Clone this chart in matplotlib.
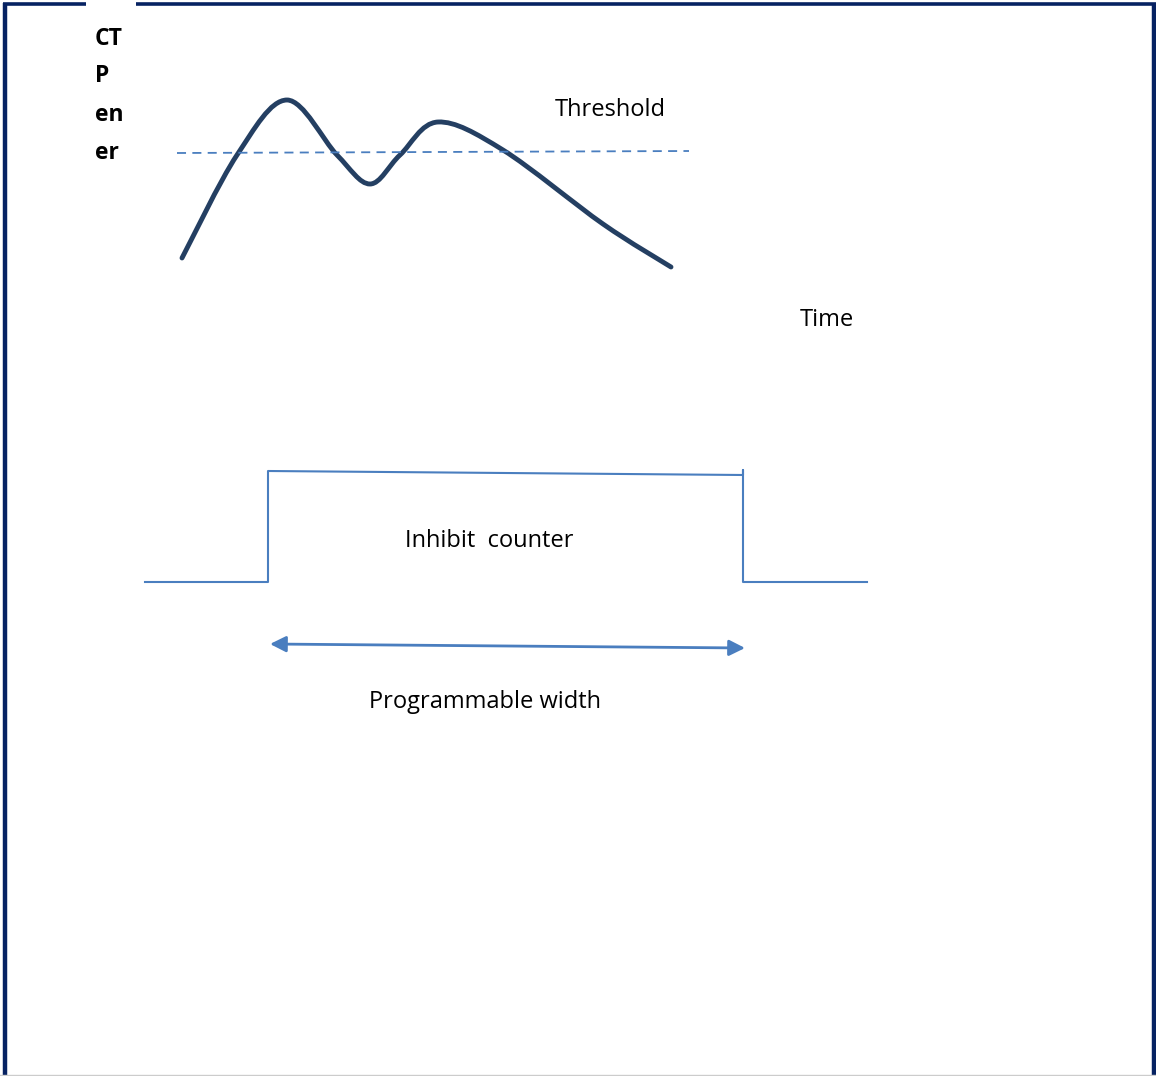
import matplotlib
matplotlib.use('agg')
import matplotlib.pyplot as plt
from matplotlib.path import Path
from matplotlib.patches import PathPatch

# canvas in pixel units (y grows downward)
W, H = 1156, 1076

# CTP energy curve knots
curve_x = [182, 237, 287, 337, 370, 400, 438, 503, 603, 671]
curve_y = [258, 155, 100, 155, 184, 155, 122, 150, 224, 267]

threshold_x = [177, 689]
threshold_y = [153, 151]

# inhibit pulse
pulse_x = [145, 268, 268, 743, 743, 743, 867]
pulse_y = [582, 582, 471, 475, 470, 582, 582]

width_arrow = [(270, 644), (745, 648)]

side_label = ["CT", "P", "en", "er"]
side_label_y = [38, 75, 114, 152]


def smooth_path(xs, ys):
    # Catmull-Rom knots turned into cubic Bezier segments
    pts = list(zip(xs, ys))
    verts = [pts[0]]
    codes = [Path.MOVETO]
    for i in range(len(pts) - 1):
        p0 = pts[max(i - 1, 0)]
        p1 = pts[i]
        p2 = pts[i + 1]
        p3 = pts[min(i + 2, len(pts) - 1)]
        c1 = (p1[0] + (p2[0] - p0[0]) / 6, p1[1] + (p2[1] - p0[1]) / 6)
        c2 = (p2[0] - (p3[0] - p1[0]) / 6, p2[1] - (p3[1] - p1[1]) / 6)
        verts += [c1, c2, p2]
        codes += [Path.CURVE4] * 3
    return Path(verts, codes)


fig = plt.figure(figsize=(W / 100, H / 100), dpi=100)
ax = fig.add_axes([0, 0, 1, 1])
ax.set_xlim(0, W)
ax.set_ylim(H, 0)
ax.axis('off')

navy = '#062262'
blue = '#4a7ebf'

# frame (top has a small gap, no bottom edge)
ax.plot([5, 5], [3, H], color=navy, linewidth=3.2, solid_capstyle='butt')
ax.plot([1154, 1154], [3, H], color=navy, linewidth=3.2, solid_capstyle='butt')
ax.plot([3, 86], [3.5, 3.5], color=navy, linewidth=2.6, solid_capstyle='butt')
ax.plot([136, 1156], [3.5, 3.5], color=navy, linewidth=2.6, solid_capstyle='butt')
ax.plot([0, W], [1075, 1075], color='#cccccc', linewidth=1)

ax.add_patch(PathPatch(smooth_path(curve_x, curve_y), facecolor='none',
                       edgecolor='#243f62', linewidth=3.5,
                       capstyle='round', joinstyle='round'))
ax.plot(threshold_x, threshold_y, color=blue, linewidth=1.3,
        linestyle=(0, (5, 3.5)))

ax.plot(pulse_x, pulse_y, color=blue, linewidth=1.5)

ax.annotate('', xy=width_arrow[1], xytext=width_arrow[0],
            arrowprops=dict(arrowstyle='<|-|>', color=blue, lw=2,
                            mutation_scale=24, shrinkA=0, shrinkB=0))

fam = ['Open Sans', 'DejaVu Sans']
fs = 17
ax.text(610, 110, "Threshold", fontsize=fs, family=fam, ha='center', va='center')
ax.text(827, 320, "Time", fontsize=fs, family=fam, ha='center', va='center')
ax.text(489, 541, "Inhibit  counter", fontsize=fs, family=fam, ha='center', va='center')
ax.text(485, 702, "Programmable width", fontsize=fs, family=fam, ha='center', va='center')
for s, y in zip(side_label, side_label_y):
    ax.text(95, y + 1, s, fontsize=16.5, family=fam, fontweight='bold', ha='left', va='center')

plt.savefig('out.png', dpi=100)
